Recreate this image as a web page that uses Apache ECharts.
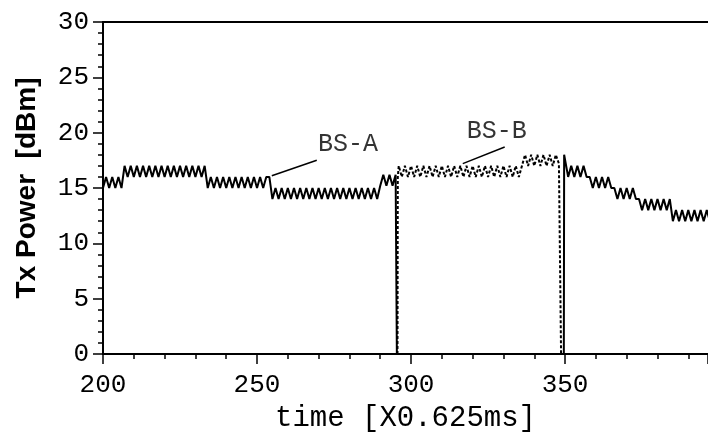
<!DOCTYPE html>
<html>
<head>
<meta charset="utf-8">
<script src="https://cdn.jsdelivr.net/npm/echarts@6/dist/echarts.min.js"></script>
<style>
  html, body { margin: 0; padding: 0; background: #fff; }
  #chart { width: 708px; height: 440px; }
</style>
</head>
<body>
<div id="chart"></div>
<script>
// time in units of 0.625 ms, Tx power in dBm
const bsA = [
  [200, 15.0], [201, 16.0], [202, 15.0], [203, 16.0], [204, 15.0], [205, 16.0], [206, 15.0],
  [207, 17.0], [208, 16.0], [209, 17.0], [210, 16.0], [211, 17.0], [212, 16.0], [213, 17.0],
  [214, 16.0], [215, 17.0], [216, 16.0], [217, 17.0], [218, 16.0], [219, 17.0], [220, 16.0],
  [221, 17.0], [222, 16.0], [223, 17.0], [224, 16.0], [225, 17.0], [226, 16.0], [227, 17.0],
  [228, 16.0], [229, 17.0], [230, 16.0], [231, 17.0], [232, 16.0], [233, 17.0],
  [234, 15.0], [235, 16.0], [236, 15.0], [237, 16.0], [238, 15.0], [239, 16.0], [240, 15.0],
  [241, 16.0], [242, 15.0], [243, 16.0], [244, 15.0], [245, 16.0], [246, 15.0], [247, 16.0],
  [248, 15.0], [249, 16.0], [250, 15.0], [251, 16.0], [252, 15.0], [253, 16.0], [254, 16.0],
  [255, 14.0], [256, 15.0], [257, 14.0], [258, 15.0], [259, 14.0], [260, 15.0], [261, 14.0],
  [262, 15.0], [263, 14.0], [264, 15.0], [265, 14.0], [266, 15.0], [267, 14.0], [268, 15.0],
  [269, 14.0], [270, 15.0], [271, 14.0], [272, 15.0], [273, 14.0], [274, 15.0], [275, 14.0],
  [276, 15.0], [277, 14.0], [278, 15.0], [279, 14.0], [280, 15.0], [281, 14.0], [282, 15.0],
  [283, 14.0], [284, 15.0], [285, 14.0], [286, 15.0], [287, 14.0], [288, 15.0], [289, 14.0],
  [290, 15.2], [291, 16.2], [292, 15.2], [293, 16.2], [294, 15.2], [295, 16.2],
  [295.4, 0], [349.6, 0], [349.7, 18.0],
  [351, 16.0], [352, 17.0], [353, 16.0], [354, 17.0], [355, 16.0], [356, 17.0], [357, 16.0],
  [358, 16.0], [359, 15.0], [360, 16.0], [361, 15.0], [362, 16.0], [363, 15.0], [364, 16.0],
  [365, 15.0], [366, 15.0], [367, 14.0], [368, 15.0], [369, 14.0], [370, 15.0], [371, 14.0],
  [372, 15.0], [373, 14.0], [374, 14.0], [375, 13.0], [376, 14.0], [377, 13.0], [378, 14.0],
  [379, 13.0], [380, 14.0], [381, 13.0], [382, 14.0], [383, 13.0], [384, 14.0],
  [385, 12.0], [386, 13.0], [387, 12.0], [388, 13.0], [389, 12.0], [390, 13.0], [391, 12.0],
  [392, 13.0], [393, 12.0], [394, 13.0], [395, 12.0], [396, 13.0], [397, 12.0]
];

const bsB = [
  [295.6, 0], [295.7, 16.0],
  [296, 17.0], [297, 16.0], [298, 17.0], [299, 16.0], [300, 17.0], [301, 16.0], [302, 17.0],
  [303, 16.0], [304, 17.0], [305, 16.0], [306, 17.0], [307, 16.0], [308, 17.0], [309, 16.0],
  [310, 17.0], [311, 16.0], [312, 17.0], [313, 16.0], [314, 17.0], [315, 16.0], [316, 17.0],
  [317, 16.0], [318, 17.0], [319, 16.0], [320, 17.0], [321, 16.0], [322, 17.0], [323, 16.0],
  [324, 17.0], [325, 16.0], [326, 17.0], [327, 16.0], [328, 17.0], [329, 16.0], [330, 17.0],
  [331, 16.0], [332, 17.0], [333, 16.0], [334, 17.0], [335, 16.0], [336, 17.0],
  [337, 18.0], [338, 17.0], [339, 18.0], [340, 17.0], [341, 18.0], [342, 17.0], [343, 18.0],
  [344, 17.0], [345, 18.0], [346, 17.0], [347, 18.0], [348, 17.2], [348.7, 0]
];

// annotation text positions and leader lines (data coordinates)
const labelA = { name: 'BS-A', at: [279.5, 18.9], line: [[254.8, 16.1], [269.4, 17.5]] };
const labelB = { name: 'BS-B', at: [327.8, 20.1], line: [[316.8, 17.2], [330.4, 18.7]] };

const xTickLabels = [200, 250, 300, 350];

var chart = echarts.init(document.getElementById('chart'));

var monoFont = '"Liberation Mono", "DejaVu Sans Mono", monospace';
var xMin = 200, xMax = 396.4;

var option = {
  animation: false,
  grid: { left: 103, top: 22, right: 0, bottom: 86 },
  xAxis: [{
    // minor ticks every 10 and the labels
    type: 'value',
    min: xMin,
    max: xMax,
    interval: 10,
    axisLine: { lineStyle: { color: '#000', width: 2 } },
    axisTick: { length: 5, lineStyle: { color: '#000', width: 1.5 } },
    splitLine: { show: false },
    axisLabel: {
      margin: 18,
      color: '#000',
      fontFamily: monoFont,
      fontSize: 26,
      showMaxLabel: false,
      formatter: function (v) { return xTickLabels.indexOf(v) >= 0 ? String(v) : '' }
    },
    name: 'time [X0.625ms]',
    nameLocation: 'middle',
    nameGap: 50,
    nameTextStyle: { color: '#000', fontFamily: monoFont, fontSize: 29 }
  }, {
    // major ticks every 50
    type: 'value',
    position: 'bottom',
    min: xMin,
    max: xMax,
    interval: 50,
    axisLine: { show: false },
    axisTick: { length: 10, lineStyle: { color: '#000', width: 1.5 } },
    axisLabel: { show: false },
    splitLine: { show: false }
  }, {
    // top frame line
    type: 'value',
    position: 'top',
    min: xMin,
    max: xMax,
    axisLine: { lineStyle: { color: '#000', width: 2 } },
    axisTick: { show: false },
    axisLabel: { show: false },
    splitLine: { show: false }
  }],
  yAxis: {
    type: 'value',
    min: 0,
    max: 30,
    interval: 5,
    axisLine: { show: true, lineStyle: { color: '#000', width: 2 } },
    axisTick: { show: true, length: 10, lineStyle: { color: '#000', width: 1.5 } },
    minorTick: { show: true, splitNumber: 5, length: 5, lineStyle: { color: '#000', width: 1.5 } },
    splitLine: { show: false },
    axisLabel: { margin: 14, color: '#000', fontFamily: monoFont, fontSize: 26 },
    name: 'Tx Power  [dBm]',
    nameLocation: 'middle',
    nameGap: 62,
    nameTextStyle: { color: '#000', fontFamily: '"Liberation Sans", Arial, sans-serif', fontWeight: 'bold', fontSize: 28 }
  },
  series: [{
    name: 'BS-A',
    type: 'line',
    data: bsA,
    showSymbol: false,
    symbol: 'none',
    lineStyle: { color: '#000', width: 2 },
    z: 3,
    markLine: {
      silent: true,
      symbol: 'none',
      label: { show: false },
      lineStyle: { color: '#000', width: 1.5, type: 'solid' },
      data: [
        [{ coord: labelA.line[0] }, { coord: labelA.line[1] }],
        [{ coord: labelB.line[0] }, { coord: labelB.line[1] }]
      ]
    }
  }, {
    name: 'BS-B',
    type: 'line',
    data: bsB,
    showSymbol: false,
    symbol: 'none',
    lineStyle: { color: '#000', width: 2, type: [3, 2] },
    z: 2
  }, {
    name: 'labels',
    type: 'scatter',
    symbolSize: 0,
    data: [
      { name: labelA.name, value: labelA.at },
      { name: labelB.name, value: labelB.at }
    ],
    label: {
      show: true,
      position: 'inside',
      formatter: '{b}',
      color: '#000',
      fontFamily: monoFont,
      fontSize: 25
    }
  }]
};

chart.setOption(option);
</script>
</body>
</html>
